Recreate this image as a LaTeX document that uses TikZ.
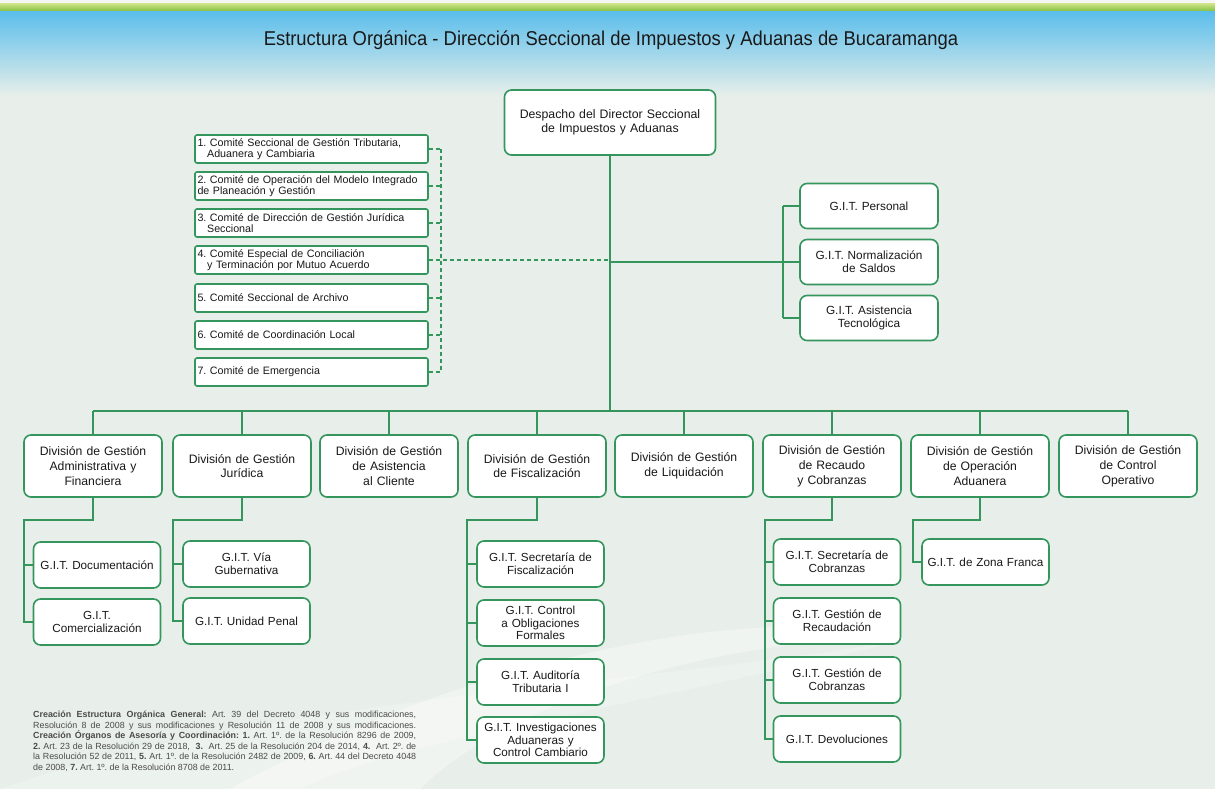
\documentclass[tikz,border=0pt]{standalone}
\usepackage{fontspec}
\setmainfont{Liberation Sans}
\newfontfamily\titlefont[FakeStretch=0.92]{Liberation Sans}
\definecolor{gb}{RGB}{52,150,92}
\definecolor{bg}{RGB}{232,239,234}
\definecolor{skyA}{RGB}{92,190,235}
\definecolor{skyB}{RGB}{160,212,232}
\definecolor{txt}{RGB}{25,25,25}
\definecolor{note}{RGB}{75,75,75}
\frenchspacing
\begin{document}
\begin{tikzpicture}[x=1pt,y=-1pt,
  box/.style={draw=gb, fill=white, rounded corners=7pt, line width=1.6pt, align=center,
    text=txt, inner sep=1pt},
  topbox/.style={box, minimum width=211pt, minimum height=65pt, text width=205pt,
    font=\fontsize{12.3}{14.5}\selectfont},
  divbox/.style={box, minimum width=138pt, minimum height=62pt, text width=134pt,
    font=\fontsize{12.2}{14.8}\selectfont},
  gitbox/.style={box, minimum width=127pt, minimum height=46pt, text width=125pt,
    font=\fontsize{11.7}{12.6}\selectfont},
  rbox/.style={box, minimum width=138pt, minimum height=45pt, text width=134pt,
    font=\fontsize{11.8}{12.8}\selectfont},
  combox/.style={draw=gb, fill=white, rounded corners=2pt, line width=1.6pt, align=left,
    text=txt, minimum width=233pt, minimum height=28pt, text width=228pt, inner sep=1pt,
    font=\fontsize{10.7}{11}\selectfont},
  conn/.style={draw=gb, line width=1.7pt},
  dconn/.style={draw=gb, line width=1.1pt, dash pattern=on 4pt off 3pt}
]
\useasboundingbox (0,0) rectangle (1215,789);
% background
\fill[bg] (0,0) rectangle (1215,789);
\fill[white!92!gray] (0,0) rectangle (1215,4);
\shade[top color={rgb,255:red,200;green,225;blue,130}, bottom color={rgb,255:red,125;green,188;blue,60}] (0,4) rectangle (1215,12);
\shade[top color=skyA, middle color=skyB, bottom color=bg] (0,12) rectangle (1215,96);
% swoosh
\fill[white, opacity=0.35] (230,789) .. controls (480,650) and (780,600) .. (905,640)
  .. controls (760,632) and (520,690) .. (420,789) -- cycle;
\fill[white, opacity=0.2] (0,789) .. controls (250,700) and (600,690) .. (905,640)
  .. controls (620,710) and (400,740) .. (300,789) -- cycle;

% title
\node[font=\titlefont\fontsize{20}{23}\selectfont, text=txt] (title) at (611,40)
  {Estructura Orgánica - Dirección Seccional de Impuestos y Aduanas de Bucaramanga};

% top box
\node[topbox] (top) at (610,122.5) {Despacho del Director Seccional\\de Impuestos y Aduanas};

% committees
\node[combox] (c1) at (311.5,149) {1. Comité Seccional de Gestión Tributaria,\\\hspace*{0.9em}Aduanera y Cambiaria};
\node[combox] (c2) at (311.5,186) {2. Comité de Operación del Modelo Integrado\\de Planeación y Gestión};
\node[combox] (c3) at (311.5,223) {3. Comité de Dirección de Gestión Jurídica\\\hspace*{0.9em}Seccional};
\node[combox] (c4) at (311.5,260) {4. Comité Especial de Conciliación\\\hspace*{0.9em}y Terminación por Mutuo Acuerdo};
\node[combox] (c5) at (311.5,298) {5. Comité Seccional de Archivo};
\node[combox] (c6) at (311.5,335) {6. Comité de Coordinación Local};
\node[combox] (c7) at (311.5,372) {7. Comité de Emergencia};

% right GIT group
\node[rbox] (p1) at (869,206) {G.I.T. Personal};
\node[rbox] (p2) at (869,262) {G.I.T. Normalización\\de Saldos};
\node[rbox] (p3) at (869,318) {G.I.T. Asistencia\\Tecnológica};

% divisions
\node[divbox] (d1) at (93,466) {División de Gestión\\Administrativa y\\Financiera};
\node[divbox] (d2) at (242,466) {División de Gestión\\Jurídica};
\node[divbox] (d3) at (389,466) {División de Gestión\\de Asistencia\\al Cliente};
\node[divbox] (d4) at (537,466) {División de Gestión\\de Fiscalización};
\node[divbox] (d5) at (684,466) {División de Gestión\\de Liquidación};
\node[divbox] (d6) at (832,466) {División de Gestión\\de Recaudo\\y Cobranzas};
\node[divbox] (d7) at (980,466) {División de Gestión\\de Operación\\Aduanera};
\node[divbox] (d8) at (1128,466) {División de Gestión\\de Control\\Operativo};

% GIT boxes under divisions
\node[gitbox] (g11) at (97,565) {G.I.T. Documentación};
\node[gitbox] (g12) at (97,622) {G.I.T.\\Comercialización};
\node[gitbox] (g21) at (246.5,564) {G.I.T. Vía\\Gubernativa};
\node[gitbox] (g22) at (246.5,621) {G.I.T. Unidad Penal};
\node[gitbox] (g41) at (540.5,564) {G.I.T. Secretaría de\\Fiscalización};
\node[gitbox] (g42) at (540.5,623) {G.I.T. Control\\a Obligaciones\\Formales};
\node[gitbox] (g43) at (540.5,682) {G.I.T. Auditoría\\Tributaria I};
\node[gitbox] (g44) at (540.5,740) {G.I.T. Investigaciones\\Aduaneras y\\Control Cambiario};
\node[gitbox] (g61) at (837,562) {G.I.T. Secretaría de\\Cobranzas};
\node[gitbox] (g62) at (837,621) {G.I.T. Gestión de\\Recaudación};
\node[gitbox] (g63) at (837,680) {G.I.T. Gestión de\\Cobranzas};
\node[gitbox] (g64) at (837,739) {G.I.T. Devoluciones};
\node[gitbox] (g71) at (985.5,562) {G.I.T. de Zona Franca};

% connectors: main trunk and bus
\coordinate (busL) at (93,411);
\coordinate (busR) at (1128,411);
\draw[conn] (top.south) -- (top.south |- busL);
\draw[conn] (busL) -- (busR);
\foreach \d in {d1,d2,d3,d4,d5,d6,d7,d8} {
  \draw[conn] (\d.north) -- (\d.north |- busL);
}
% right group
\coordinate (rv) at (783,0);
\draw[conn] (rv |- p1.west) -- (rv |- p3.west);
\draw[conn] (rv |- p1.west) -- (p1.west);
\draw[conn] (rv |- p3.west) -- (p3.west);
\draw[conn] (top.south |- p2.west) -- (p2.west);
% committees dashed
\coordinate (cv) at (441,0);
\draw[dconn] (cv |- c1.east) -- (cv |- c7.east);
\foreach \c in {c1,c2,c3,c5,c6,c7} {
  \draw[dconn] (\c.east) -- (cv |- \c.east);
}
\draw[dconn] (c4.east) -- (top.south |- c4.east);

% subtrees
\coordinate (j1) at (24,520);
\draw[conn] (d1.south) |- (j1) |- (g12.west);
\draw[conn] (j1 |- g11.west) -- (g11.west);
\coordinate (j2) at (173,520);
\draw[conn] (d2.south) |- (j2) |- (g22.west);
\draw[conn] (j2 |- g21.west) -- (g21.west);
\coordinate (j4) at (467,520);
\draw[conn] (d4.south) |- (j4) |- (g44.west);
\foreach \g in {g41,g42,g43} { \draw[conn] (j4 |- \g.west) -- (\g.west); }
\coordinate (j6) at (765,520);
\draw[conn] (d6.south) |- (j6) |- (g64.west);
\foreach \g in {g61,g62,g63} { \draw[conn] (j6 |- \g.west) -- (\g.west); }
\coordinate (j7) at (913,520);
\draw[conn] (d7.south) |- (j7) |- (g71.west);

% footnote
\node[anchor=north west, inner sep=0pt, text=note, font=\fontsize{8.9}{10.5}\selectfont] (fn) at (33,711)
{\parbox{383pt}{%
\textbf{Creación Estructura Orgánica General:} Art. 39 del Decreto 4048 y sus modificaciones,\linebreak
Resolución 8 de 2008 y sus modificaciones y Resolución 11 de 2008 y sus modificaciones.\linebreak
\textbf{Creación Órganos de Asesoría y Coordinación: 1.} Art. 1º. de la Resolución 8296 de 2009,\linebreak
\textbf{2.} Art. 23 de la Resolución 29 de 2018, \ \textbf{3.} \ Art. 25 de la Resolución 204 de 2014, \textbf{4.} \ Art. 2º. de\linebreak
la Resolución 52 de 2011, \textbf{5.} Art. 1º. de la Resolución 2482 de 2009, \textbf{6.} Art. 44 del Decreto 4048\linebreak
de 2008, \textbf{7.} Art. 1º. de la Resolución 8708 de 2011.}};
\end{tikzpicture}
\end{document}
